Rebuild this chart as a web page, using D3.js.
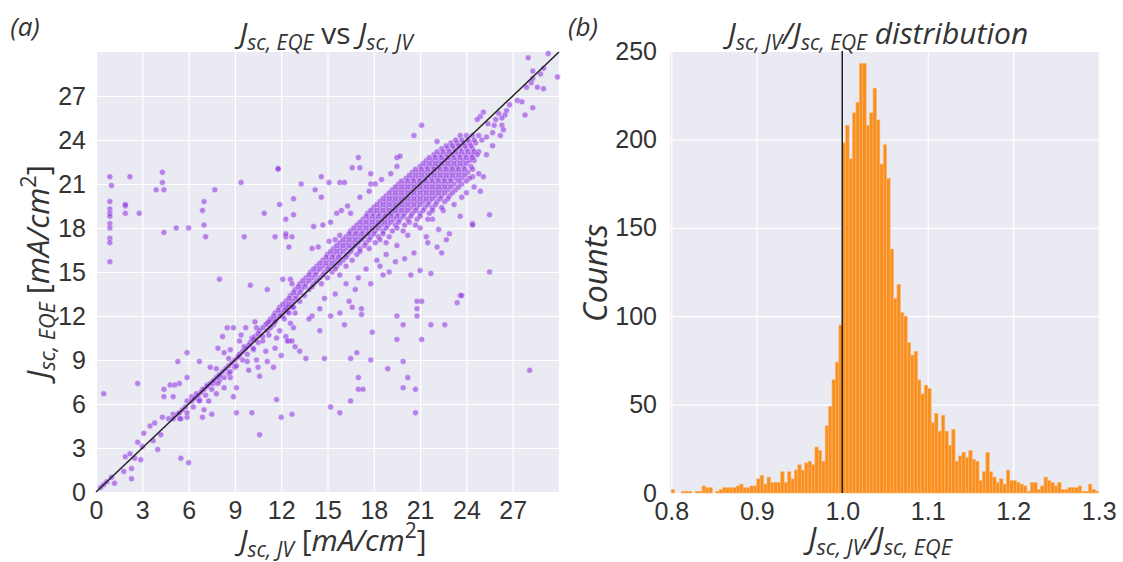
<!DOCTYPE html>
<html>
<head>
<meta charset="utf-8">
<script src="https://cdn.jsdelivr.net/npm/d3@7"></script>
<style>
body { margin: 0; background: #fff; }
text { white-space: pre; }
</style>
</head>
<body>
<svg id="fig" width="1123" height="562"></svg>
<script>
// panel (a): Jsc,EQE vs Jsc,JV  -- [JV, EQE] pairs
const scatterTicks = [0, 3, 6, 9, 12, 15, 18, 21, 24, 27]

// dense band, one row per EQE level: [EQE, [JV values]]
const cloudRows = [
	[24.3, [23.6, 24.0, 24.4, 24.8]],
	[23.8, [23.0, 23.4, 23.8, 24.2, 24.6]],
	[23.4, [22.4, 22.8, 23.2, 23.6, 24.0, 24.4]],
	[23.0, [21.9, 22.3, 22.7, 23.1, 23.5, 23.9, 24.3, 24.7]],
	[22.6, [21.4, 21.8, 22.2, 22.6, 23.0, 23.4, 23.8, 24.2]],
	[22.2, [21.0, 21.4, 21.8, 22.2, 22.6, 23.0, 23.4, 23.8, 24.3]],
	[21.8, [20.5, 20.9, 21.3, 21.7, 22.1, 22.5, 22.9, 23.3, 23.7, 24.1]],
	[21.4, [20.1, 20.5, 20.9, 21.3, 21.7, 22.1, 22.5, 22.9, 23.3, 23.7, 24.2]],
	[21.0, [19.6, 20.0, 20.4, 20.8, 21.2, 21.6, 22.0, 22.4, 22.8, 23.2, 23.7]],
	[20.6, [19.2, 19.6, 20.0, 20.4, 20.8, 21.2, 21.6, 22.0, 22.4, 22.8, 23.3]],
	[20.2, [18.8, 19.2, 19.6, 20.0, 20.4, 20.8, 21.2, 21.6, 22.0, 22.4, 22.9]],
	[19.8, [18.4, 18.8, 19.2, 19.6, 20.0, 20.4, 20.8, 21.2, 21.6, 22.1, 22.6]],
	[19.4, [18.0, 18.4, 18.8, 19.2, 19.6, 20.0, 20.4, 20.8, 21.3, 21.8, 22.4]],
	[19.0, [17.6, 18.0, 18.4, 18.8, 19.2, 19.6, 20.0, 20.5, 21.0, 21.6]],
	[18.6, [17.3, 17.7, 18.1, 18.5, 18.9, 19.3, 19.7, 20.2, 20.8, 21.5]],
	[18.2, [16.9, 17.3, 17.7, 18.1, 18.5, 18.9, 19.4, 20.0, 20.7]],
	[17.8, [16.5, 16.9, 17.3, 17.7, 18.1, 18.6, 19.2, 19.9]],
	[17.4, [16.2, 16.6, 17.0, 17.4, 17.8, 18.3, 19.0]],
	[17.0, [15.8, 16.2, 16.6, 17.0, 17.5, 18.1, 18.8]],
	[16.6, [15.4, 15.8, 16.2, 16.6, 17.1, 17.7]],
	[16.2, [15.0, 15.4, 15.8, 16.3, 16.9]],
	[15.8, [14.7, 15.1, 15.5, 16.0, 16.6]],
	[15.4, [14.3, 14.7, 15.1, 15.6, 16.2]],
	[15.0, [13.9, 14.3, 14.8, 15.3]],
	[14.6, [13.6, 14.0, 14.5, 15.0]],
	[14.2, [13.2, 13.6, 14.1, 14.6]],
	[13.8, [12.9, 13.3, 13.8]],
	[13.4, [12.6, 13.0, 13.5]],
	[13.0, [12.3, 12.7, 13.2]],
	[12.6, [11.9, 12.3, 12.8]],
	[12.2, [11.6, 12.0, 12.5]],
	[11.8, [11.3, 11.7, 12.2]],
	[11.4, [11.0, 11.5]],
	[11.0, [10.6, 11.1]],
	[10.6, [10.3, 10.8]],
	[10.2, [10.0, 10.5]],
	[9.8, [9.7, 10.2]],
	[9.4, [9.3, 9.8]],
	[9.0, [9.0, 9.5]],
	[8.6, [8.6, 9.1]],
	[8.2, [8.2, 8.7]],
	[7.8, [7.8, 8.3]],
	[7.4, [7.4, 7.9]],
	[7.0, [7.0, 7.5]],
	[6.6, [6.6, 7.1]],
	[6.2, [6.2, 6.7]],
	[5.8, [5.8, 6.3]],
	[5.4, [5.4, 5.9]],
	[5.0, [5.0, 5.5]]
]

// in-between rows of the same band
const cloudRowsMid = [
	[24.0, [23.3, 23.7, 24.1, 24.5]],
	[23.6, [22.7, 23.1, 23.5, 23.9, 24.3]],
	[23.2, [22.1, 22.5, 22.9, 23.3, 23.7, 24.1, 24.5]],
	[22.8, [21.6, 22.0, 22.4, 22.8, 23.2, 23.6, 24.0, 24.4]],
	[22.4, [21.2, 21.6, 22.0, 22.4, 22.8, 23.2, 23.6, 24.0]],
	[22.0, [20.7, 21.1, 21.5, 21.9, 22.3, 22.7, 23.1, 23.5, 23.9, 24.4]],
	[21.6, [20.3, 20.7, 21.1, 21.5, 21.9, 22.3, 22.7, 23.1, 23.5, 23.9]],
	[21.2, [19.8, 20.2, 20.6, 21.0, 21.4, 21.8, 22.2, 22.6, 23.0, 23.5, 24.0]],
	[20.8, [19.4, 19.8, 20.2, 20.6, 21.0, 21.4, 21.8, 22.2, 22.6, 23.0, 23.5]],
	[20.4, [19.0, 19.4, 19.8, 20.2, 20.6, 21.0, 21.4, 21.8, 22.2, 22.6, 23.1]],
	[20.0, [18.6, 19.0, 19.4, 19.8, 20.2, 20.6, 21.0, 21.4, 21.8, 22.3, 22.8]],
	[19.6, [18.2, 18.6, 19.0, 19.4, 19.8, 20.2, 20.6, 21.0, 21.5, 22.0]],
	[19.2, [17.8, 18.2, 18.6, 19.0, 19.4, 19.8, 20.2, 20.7, 21.2, 21.8]],
	[18.8, [17.5, 17.9, 18.3, 18.7, 19.1, 19.5, 19.9, 20.4, 21.0]],
	[18.4, [17.1, 17.5, 17.9, 18.3, 18.7, 19.1, 19.6, 20.3]],
	[18.0, [16.7, 17.1, 17.5, 17.9, 18.3, 18.8, 19.5]],
	[17.6, [16.4, 16.8, 17.2, 17.6, 18.0, 18.6]],
	[17.2, [16.0, 16.4, 16.8, 17.2, 17.7, 18.4]],
	[16.8, [15.6, 16.0, 16.4, 16.8, 17.4]],
	[16.4, [15.2, 15.6, 16.0, 16.5, 17.1]],
	[16.0, [14.9, 15.3, 15.7, 16.2]],
	[15.6, [14.5, 14.9, 15.3, 15.8]],
	[15.2, [14.1, 14.5, 15.0, 15.5]],
	[14.8, [13.8, 14.2, 14.7]],
	[14.4, [13.4, 13.8, 14.3]],
	[14.0, [13.1, 13.5, 14.0]],
	[13.6, [12.8, 13.2]],
	[13.2, [12.5, 12.9]],
	[12.8, [12.1, 12.5]],
	[12.4, [11.8, 12.2]],
	[12.0, [11.5, 11.9]],
	[11.6, [11.2, 11.6]],
	[11.2, [10.8, 11.3]],
	[10.8, [10.5]],
	[10.4, [10.2]],
	[10.0, [9.9]],
	[9.6, [9.5]],
	[9.2, [9.2]],
	[8.8, [8.8]],
	[8.4, [8.4]],
	[8.0, [8.0]],
	[7.6, [7.6]],
	[7.2, [7.2]],
	[6.8, [6.8]],
	[6.4, [6.4]]
]

const lowBandPoints = [
	[0.3, 0.3], [0.5, 0.5], [0.7, 0.7], [1.2, 0.6], [1.0, 1.0], [2.3, 0.9], [1.8, 1.4], [2.3, 1.6], [1.9, 2.4], [2.2, 2.6],
	[2.5, 2.3], [2.9, 2.2], [3.0, 3.1], [2.7, 3.4], [3.1, 4.0], [3.5, 4.5], [3.8, 4.7], [4.0, 2.9], [3.7, 3.5], [4.2, 3.9],
	[4.3, 5.1], [4.4, 6.5], [4.4, 7.0], [4.8, 7.3], [5.1, 7.3], [5.4, 7.4], [5.0, 6.5], [4.7, 5.0], [5.0, 5.3], [5.3, 5.3],
	[5.4, 5.0], [5.6, 5.6], [5.9, 5.1], [5.9, 7.8], [5.9, 9.5], [5.3, 8.9], [6.7, 8.9], [5.9, 6.2], [6.2, 6.5], [6.5, 6.7],
	[6.7, 6.3], [6.9, 7.0], [7.2, 7.3], [7.3, 6.2], [7.0, 5.6], [7.5, 5.3], [6.9, 5.1], [7.8, 6.7], [7.6, 7.4], [8.0, 7.6],
	[8.3, 7.1], [7.8, 8.4], [7.4, 8.5], [8.0, 7.9], [8.7, 7.8], [9.1, 7.1], [8.9, 6.5], [8.6, 8.1], [9.0, 8.5], [8.6, 9.1],
	[8.3, 9.5], [7.9, 9.8], [8.7, 9.7], [8.2, 10.6], [8.5, 11.2], [8.9, 11.2], [9.3, 9.3], [9.3, 10.3], [9.6, 9.9], [9.8, 8.9],
	[9.9, 8.3], [9.4, 10.7], [9.7, 11.2], [10.1, 10.5], [10.2, 9.7], [10.4, 9.0], [10.6, 7.9], [10.5, 8.5], [10.4, 11.2], [10.3, 11.6],
	[10.8, 10.3], [11.0, 9.6], [11.1, 8.9], [11.2, 10.7], [11.1, 11.5], [11.5, 11.7], [11.6, 9.8], [11.5, 8.5], [11.7, 10.5], [12.0, 9.3],
	[12.3, 10.6], [12.5, 10.3], [11.9, 11.0], [12.1, 12.0], [12.6, 11.5], [12.8, 11.2], [12.9, 12.2], [12.4, 12.3], [12.7, 12.6], [12.4, 12.6]
]

const aboveLinePoints = [
	[0.9, 21.5], [1.0, 20.9], [2.2, 21.5], [0.9, 19.8], [0.9, 19.3], [0.9, 19.0], [0.9, 18.8], [1.9, 19.5], [1.9, 19.6], [1.9, 19.0],
	[2.8, 19.0], [0.9, 18.3], [0.9, 18.0], [0.9, 17.3], [0.9, 17.0], [0.9, 15.7], [4.3, 21.8], [4.3, 21.1], [3.9, 20.6], [4.4, 20.6],
	[7.7, 20.6], [4.4, 17.7], [5.2, 18.0], [6.0, 18.0], [7.0, 19.8], [6.9, 19.2], [7.0, 18.2], [7.1, 17.4], [9.4, 21.1], [11.8, 22.0],
	[11.8, 22.05], [10.9, 19.0], [11.9, 19.6], [12.8, 20.0], [12.3, 18.6], [12.8, 18.9], [9.6, 17.4], [11.6, 17.4], [12.3, 17.4], [12.7, 17.4],
	[12.5, 16.7], [8.0, 14.5], [10.0, 14.1], [12.1, 14.5], [12.6, 14.5], [0.5, 6.7], [2.7, 7.4], [11.1, 13.8], [12.7, 14.2],
	[14.2, 20.6], [14.6, 20.1], [14.6, 21.5], [13.3, 21.0], [15.1, 21.1], [15.8, 21.1], [16.1, 21.1], [17.8, 21.0], [17.0, 22.8], [16.6, 22.1],
	[17.1, 22.1], [17.8, 21.7], [19.5, 22.8], [19.7, 22.9], [21.1, 25.0], [20.6, 24.3], [22.1, 23.9], [14.7, 18.2], [14.1, 18.1], [12.3, 17.6],
	[14.0, 16.6], [14.4, 16.7], [15.1, 17.1], [15.5, 17.2], [15.8, 17.5], [15.2, 18.4], [15.6, 19.0], [15.9, 19.2], [16.3, 19.5], [16.5, 19.0],
	[17.1, 20.1], [17.7, 20.5], [18.1, 21.0], [18.5, 21.3], [19.1, 21.7], [19.5, 22.2]
]

const topRightPoints = [
	[28.0, 29.6], [29.3, 29.9], [29.9, 28.3], [28.3, 28.7], [28.8, 28.5], [29.0, 28.9], [27.9, 27.6], [28.2, 27.9], [28.6, 27.6], [29.0, 27.5],
	[28.3, 28.2], [27.3, 26.7], [27.6, 26.6], [28.3, 26.2], [27.8, 25.7], [26.8, 26.4], [26.6, 26.0], [26.5, 25.7], [26.3, 25.5], [26.1, 25.8],
	[25.9, 25.4], [25.8, 25.0], [25.4, 25.1], [25.1, 25.9], [24.9, 25.6], [24.7, 25.4], [26.3, 25.0], [26.4, 24.7], [26.2, 24.3], [25.7, 24.5],
	[25.3, 24.2], [25.0, 24.0], [25.7, 23.6], [25.3, 23.0], [24.8, 23.2], [24.5, 22.6], [25.1, 21.5], [24.8, 21.7], [24.4, 21.5], [24.5, 20.8],
	[24.0, 20.4], [23.7, 20.1], [25.5, 18.9], [24.4, 18.3], [24.9, 20.5], [24.4, 18.2]
]

const belowLinePoints = [
	[25.5, 15.0], [23.6, 13.4], [23.7, 13.4], [23.4, 12.9], [28.1, 8.3], [22.6, 11.4], [21.7, 11.4], [19.9, 11.4], [20.8, 13.0], [21.1, 13.0],
	[20.8, 12.5], [20.8, 12.0], [19.5, 12.0], [19.5, 10.4], [21.1, 10.4], [17.9, 10.9], [16.1, 11.4], [17.2, 12.1], [17.2, 12.5], [16.6, 12.6],
	[15.8, 12.2], [16.9, 9.5], [16.5, 9.1], [17.8, 9.0], [14.8, 9.1], [18.9, 8.4], [19.9, 8.9], [17.0, 7.8], [17.0, 7.0], [17.3, 7.0],
	[19.9, 7.1], [20.2, 7.8], [20.7, 7.0], [16.5, 6.2], [15.2, 5.8], [15.8, 5.4], [20.7, 5.4], [12.7, 5.3], [12.0, 5.1], [13.6, 9.1],
	[14.5, 11.0], [14.0, 12.0], [13.2, 9.6], [12.9, 9.9], [12.4, 10.3], [12.7, 10.3], [9.1, 5.4], [10.1, 5.4], [10.6, 3.9], [11.7, 6.3],
	[5.5, 2.3], [6.0, 2.0], [21.4, 17.4], [22.2, 17.9], [22.9, 17.6], [23.6, 18.8], [22.7, 17.2], [21.5, 17.0], [22.1, 16.7], [20.6, 16.3],
	[20.0, 15.9], [19.4, 15.7], [18.4, 15.4], [21.0, 15.1], [21.7, 14.9], [20.4, 14.8], [22.4, 16.3],
	[15.5, 13.5], [16.2, 14.2], [17.0, 14.6], [17.5, 15.2], [18.2, 15.8], [16.8, 13.8], [15.8, 14.8], [18.8, 16.2], [19.5, 16.8], [20.2, 17.5],
	[21.0, 18.0], [21.8, 18.6], [22.5, 19.2], [23.2, 19.6], [19.0, 15.0], [14.5, 12.5], [13.8, 11.8], [14.8, 13.2], [17.8, 14.2], [18.6, 14.8],
	[16.4, 13.0], [15.2, 12.0]
]

// panel (b): histogram of Jsc,JV / Jsc,EQE, bins of 0.004 starting at 0.8
const binStart = 0.8
const binWidth = 0.004
const binCounts = [
	2, 0, 0, 1, 1, 1, 0, 1, 1, 4,
	3, 3, 0, 1, 2, 3, 3, 3, 3, 4,
	5, 3, 3, 4, 4, 8, 10, 5, 9, 6,
	6, 6, 12, 6, 12, 8, 13, 16, 13, 17,
	18, 16, 26, 24, 18, 38, 49, 64, 74, 95,
	198, 208, 189, 215, 221, 243, 243, 208, 215, 229,
	211, 186, 197, 178, 138, 110, 118, 102, 100, 85,
	78, 80, 64, 56, 61, 59, 40, 45, 35, 44,
	35, 27, 36, 18, 21, 23, 20, 24, 19, 18,
	7, 12, 23, 12, 9, 6, 8, 5, 13, 7,
	7, 6, 5, 4, 1, 6, 6, 2, 4, 9,
	7, 6, 4, 6, 2, 2, 3, 3, 3, 4,
	1, 1, 5, 2, 1
]
const histXTicks = [0.8, 0.9, 1.0, 1.1, 1.2, 1.3]
const histYTicks = [0, 50, 100, 150, 200, 250]

const svg = d3.select('#fig')
const labelFont = '"Open Sans", "DejaVu Sans", sans-serif'
const tickFont = '"Liberation Sans", Arial, sans-serif'

function panel(x, y, xTicks, yTicks, fmtX, padY) {
	const g = svg.append('g')
	const [x0, x1] = x.range()
	const [y0, y1] = y.range()
	g.append('rect')
		.attr('x', x0).attr('y', y1)
		.attr('width', x1 - x0).attr('height', y0 - y1)
		.attr('fill', '#eaeaf2')
	g.append('g')
		.attr('transform', `translate(0,${y0})`)
		.call(d3.axisBottom(x).tickValues(xTicks).tickSize(-(y0 - y1)).tickPadding(9).tickFormat(fmtX))
	g.append('g')
		.attr('transform', `translate(${x0},0)`)
		.call(d3.axisLeft(y).tickValues(yTicks).tickSize(-(x1 - x0)).tickPadding(padY).tickFormat(d3.format('d')))
	g.selectAll('.domain').remove()
	g.selectAll('.tick line').attr('stroke', '#fff').attr('stroke-width', 1.2)
	g.selectAll('.tick text')
		.attr('fill', '#333')
		.style('font-size', '25px')
		.style('font-family', tickFont)
	return g
}

// italic math-ish label: parts with optional sub / sup / upright
function mathText(x, y, parts, size, rotate) {
	const t = svg.append('text')
		.attr('text-anchor', 'middle')
		.attr('fill', '#333')
		.style('font-family', labelFont)
		.style('font-size', size + 'px')
		.attr('transform', `translate(${x},${y})` + (rotate ? ' rotate(-90)' : ''))
	let shift = 0
	parts.forEach(p => {
		const small = p.sub || p.sup
		const target = p.sub ? size * 0.2 : p.sup ? -size * 0.42 : 0
		t.append('tspan')
			.text(p.t)
			.attr('dy', target - shift)
			.style('font-size', (small ? size * 0.7 : size) + 'px')
			.style('font-style', p.up ? 'normal' : 'italic')
		shift = target
	})
	return t
}

// ---------- (a) scatter ----------
const xA = d3.scaleLinear().domain([0, 30]).range([96, 559])
const yA = d3.scaleLinear().domain([0, 30]).range([492, 52])
const gA = panel(xA, yA, scatterTicks, scatterTicks, d3.format('d'), 10)

const cloudPoints = cloudRows.concat(cloudRowsMid).flatMap(([eqe, jvs]) => jvs.map(jv => [jv, eqe]))
const allPoints = [].concat(lowBandPoints, belowLinePoints, aboveLinePoints, topRightPoints, cloudPoints)

gA.append('g').selectAll('circle')
	.data(allPoints)
	.enter()
		.append('circle')
			.attr('cx', d => xA(d[0]))
			.attr('cy', d => yA(d[1]))
			.attr('r', 3)
			.attr('fill', '#8a2be2')
			.attr('stroke', '#fff')
			.attr('stroke-width', 0.5)
			.attr('opacity', 0.55)

gA.append('line')
	.attr('x1', xA(0)).attr('y1', yA(0))
	.attr('x2', xA(30)).attr('y2', yA(30))
	.attr('stroke', '#222')
	.attr('stroke-width', 1.5)

// ---------- (b) histogram ----------
const xB = d3.scaleLinear().domain([0.7985, 1.3015]).range([670, 1100])
const yB = d3.scaleLinear().domain([0, 250]).range([493, 51])
const gB = panel(xB, yB, histXTicks, histYTicks, d3.format('.1f'), 13)

const bins = binCounts.map((c, i) => ({ x0: binStart + i * binWidth, x1: binStart + (i + 1) * binWidth, count: c }))

gB.append('g').selectAll('rect')
	.data(bins)
	.enter()
		.append('rect')
			.attr('x', d => xB(d.x0))
			.attr('y', d => yB(d.count))
			.attr('width', d => xB(d.x1) - xB(d.x0))
			.attr('height', d => yB(0) - yB(d.count))
			.attr('fill', '#f98f1f')
			.attr('stroke', '#fcb56c')
			.attr('stroke-width', 0.6)

gB.append('line')
	.attr('x1', xB(1.0)).attr('x2', xB(1.0))
	.attr('y1', yB(0)).attr('y2', yB(250))
	.attr('stroke', '#222')
	.attr('stroke-width', 1.5)

// ---------- texts ----------
const J = { t: 'J' }
mathText(326, 44, [J, { t: 'sc, EQE', sub: true }, { t: ' vs ', up: true }, J, { t: 'sc, JV', sub: true }], 30)
mathText(333, 551, [J, { t: 'sc, JV', sub: true }, { t: ' [', up: true }, { t: 'mA/cm' }, { t: '2', sup: true, up: true }, { t: ']', up: true }], 30)
mathText(49, 272, [J, { t: 'sc, EQE', sub: true }, { t: ' [', up: true }, { t: 'mA/cm' }, { t: '2', sup: true, up: true }, { t: ']', up: true }], 31, true)

mathText(878, 44, [J, { t: 'sc, JV', sub: true }, { t: '/' }, J, { t: 'sc, EQE', sub: true }, { t: ' distribution' }], 30)
mathText(880, 549, [J, { t: 'sc, JV', sub: true }, { t: '/' }, J, { t: 'sc, EQE', sub: true }], 31)
mathText(607, 273, [{ t: 'Counts' }], 32, true)

mathText(25, 36, [{ t: '(a)' }], 26)
mathText(583, 36, [{ t: '(b)' }], 26)
</script>
</body>
</html>
